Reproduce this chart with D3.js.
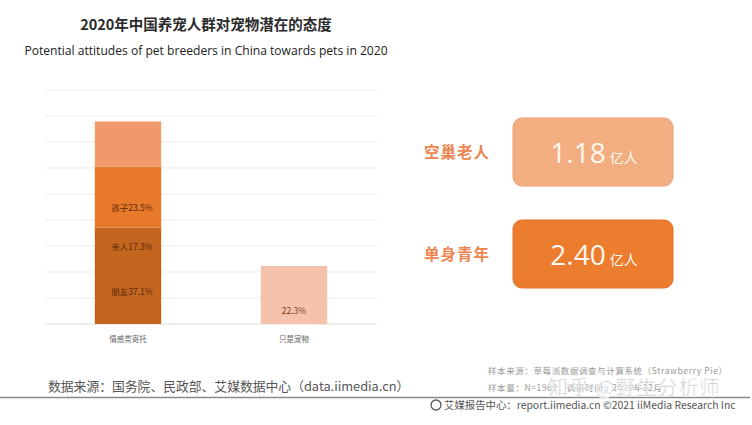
<!DOCTYPE html>
<html><head><meta charset="utf-8">
<script src="https://cdn.jsdelivr.net/npm/d3@7"></script>
<style>
body{margin:0;background:#fff;}
svg{display:block;font-family:"Noto Sans CJK SC","Noto Sans",sans-serif;}
</style></head>
<body><svg id="c" width="752" height="425"></svg>
<script>
const categories = ["情感类寄托", "只是宠物"];
const segmentNames = ["朋友", "孩子", "亲人"];
const segmentValues = [37.1, 23.5, 17.3];
const labelOrder = ["朋友", "亲人", "孩子"];
const petOnlyValue = 22.3;
const yTicks = [0, 10, 20, 30, 40, 50, 60, 70, 80, 90];
const groups = ["空巢老人", "单身青年"];
const groupCounts = [1.18, 2.40];
const unit = "亿人";

const svg = d3.select("#c");
const x = d3.scaleBand().domain(categories).range([45, 377]).paddingInner(0.6).paddingOuter(0.3);
const y = d3.scaleLinear().domain([0, 90]).range([324, 90]);

// title
svg.append("text").attr("x", 206).attr("y", 30).attr("text-anchor", "middle")
  .attr("font-size", 14.5).attr("font-weight", "bold").attr("fill", "#2a2a2a")
  .text("2020年中国养宠人群对宠物潜在的态度");
svg.append("text").attr("x", 206).attr("y", 55).attr("text-anchor", "middle")
  .attr("font-family", "'Open Sans',sans-serif").attr("font-size", 12.1).attr("fill", "#222")
  .text("Potential attitudes of pet breeders in China towards pets in 2020");

// gridlines
svg.append("g").selectAll("line").data(yTicks).join("line")
  .attr("x1", 45).attr("x2", 377).attr("y1", d => y(d)).attr("y2", d => y(d))
  .attr("stroke", d => d === 0 ? "#dcdcdc" : "#ededed").attr("stroke-width", 1);

// stacked bar
const segColors = { "朋友": "#c3651f", "孩子": "#e8792b", "亲人": "#f09a6c" };
let cum = 0;
const stacked = segmentNames.map((n, i) => { const s = { name: n, y0: cum, y1: cum + segmentValues[i] }; cum += segmentValues[i]; return s; });
svg.append("g").selectAll("rect").data(stacked).join("rect")
  .attr("x", x(categories[0])).attr("width", x.bandwidth())
  .attr("y", d => y(d.y1)).attr("height", d => y(d.y0) - y(d.y1))
  .attr("fill", d => segColors[d.name]);

// segment labels (placed as in the original, in order from the bottom)
const labelLevels = [12.3, 29.6, 44.6];
svg.append("g").selectAll("text").data(labelOrder).join("text")
  .attr("x", x(categories[0]) + x.bandwidth() / 2 + 4)
  .attr("y", (d, i) => y(labelLevels[i]) + 3)
  .attr("text-anchor", "middle").attr("font-size", 8.5).attr("fill", "#5a2a0c")
  .text(d => d + segmentValues[segmentNames.indexOf(d)].toFixed(1) + "%");

// single bar
svg.append("rect").attr("x", x(categories[1])).attr("width", x.bandwidth())
  .attr("y", y(petOnlyValue)).attr("height", y(0) - y(petOnlyValue)).attr("fill", "#f5c2ac");
svg.append("text").attr("x", x(categories[1]) + x.bandwidth() / 2).attr("y", y(5) + 3)
  .attr("text-anchor", "middle").attr("font-size", 8.5).attr("fill", "#7a3d22")
  .text(petOnlyValue.toFixed(1) + "%");

// category labels
svg.append("g").selectAll("text").data(categories).join("text")
  .attr("x", d => x(d) + x.bandwidth() / 2).attr("y", 342)
  .attr("text-anchor", "middle").attr("font-size", 7.5).attr("fill", "#666")
  .text(d => d);

// cards
const cardColors = ["#f2ae80", "#ec7c2e"];
const cardTop = [118, 220];
const card = svg.append("g").selectAll("g").data(groups).join("g");
card.append("text").attr("x", 424).attr("y", (d, i) => cardTop[i] + 40)
  .attr("font-size", 15.5).attr("font-weight", "bold").attr("fill", "#ec8550")
  .attr("letter-spacing", 1).text(d => d);
card.append("rect").attr("x", 513).attr("y", (d, i) => cardTop[i])
  .attr("width", 160).attr("height", 68).attr("rx", 9)
  .attr("fill", (d, i) => cardColors[i]).attr("stroke", (d, i) => i === 0 ? "#e9a172" : "#e0702a");
const ct = card.append("text").attr("x", 594).attr("y", (d, i) => cardTop[i] + 45)
  .attr("text-anchor", "middle").attr("fill", "#fff8ee");
ct.append("tspan").attr("font-family", "'Open Sans','Lato',sans-serif").attr("font-size", 28)
  .text((d, i) => groupCounts[i].toFixed(2));
ct.append("tspan").attr("font-size", 14).attr("dx", 4).text(unit);

// footer
svg.append("text").attr("x", 48).attr("y", 391).attr("font-size", 12.8).attr("fill", "#555")
  .text("数据来源：国务院、民政部、艾媒数据中心（data.iimedia.cn）");
svg.append("line").attr("x1", 0).attr("x2", 750).attr("y1", 397.5).attr("y2", 397.5)
  .attr("stroke", "#8a8a8a").attr("stroke-width", 1.3);
svg.append("text").attr("x", 488).attr("y", 374).attr("font-size", 8.5).attr("letter-spacing", 0.6).attr("fill", "#999")
  .text("样本来源：草莓派数据调查与计算系统（Strawberry Pie）");
svg.append("text").attr("x", 488).attr("y", 391).attr("font-size", 8.5).attr("letter-spacing", 0.6).attr("fill", "#999")
  .text("样本量：N=1962；调研时间：2020年12月");
svg.append("text").attr("x", 548).attr("y", 395).attr("font-size", 20).attr("fill", "#c8c8c8")
  .attr("stroke", "#fff").attr("stroke-width", 0.6).attr("letter-spacing", 1)
  .text("知乎 @野生分析师");
svg.append("circle").attr("cx", 436).attr("cy", 405).attr("r", 5).attr("fill", "none").attr("stroke", "#555").attr("stroke-width", 1.3);
svg.append("text").attr("x", 444).attr("y", 409).attr("font-size", 10.4).attr("fill", "#555")
  .text("艾媒报告中心：report.iimedia.cn  ©2021  iiMedia Research Inc");
</script></body></html>
